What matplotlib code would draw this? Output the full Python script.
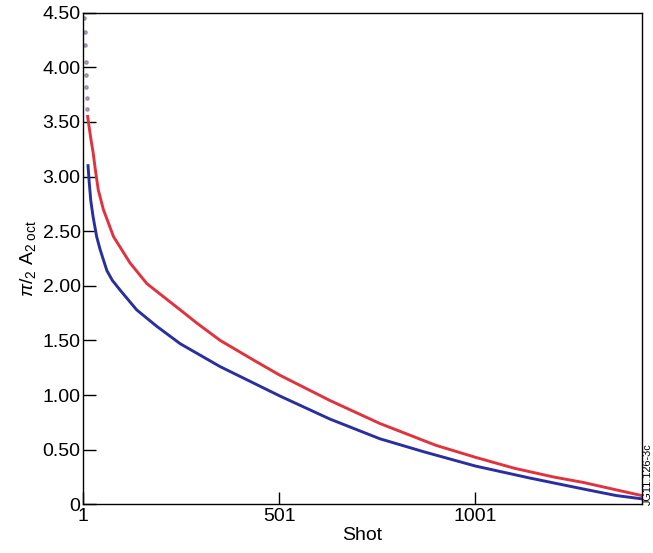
import matplotlib
matplotlib.use("Agg")
import matplotlib.pyplot as plt

plt.rcParams['font.family'] = ['Liberation Sans', 'DejaVu Sans']
plt.rcParams['mathtext.fontset'] = 'custom'
plt.rcParams['mathtext.rm'] = 'Liberation Sans'
plt.rcParams['mathtext.it'] = 'Liberation Sans:italic'
plt.rcParams['mathtext.sf'] = 'Liberation Sans'

# sparse first shots (scattered dots near shot 1)
head_shot = [4, 5, 6, 7, 8, 9, 10, 11]
head_val = [4.45, 4.32, 4.2, 4.05, 3.93, 3.82, 3.72, 3.62]

# red (upper) curve
red_shot = [12, 16, 20, 26, 31, 39, 52, 78, 120, 163, 248, 290, 350, 440,
            503, 630, 757, 900, 1001, 1100, 1200, 1276, 1350, 1425]
red_val = [3.55, 3.45, 3.35, 3.22, 3.08, 2.88, 2.70, 2.45, 2.21, 2.02, 1.78,
           1.66, 1.50, 1.31, 1.18, 0.95, 0.74, 0.54, 0.43, 0.33, 0.25, 0.2,
           0.14, 0.08]

# blue (lower) curve
blue_shot = [13, 16, 20, 26, 35, 44, 61, 75, 95, 137, 188, 248, 350, 503, 630,
             757, 870, 1001, 1140, 1276, 1360, 1425]
blue_val = [3.1, 2.95, 2.78, 2.63, 2.45, 2.33, 2.14, 2.05, 1.96, 1.78, 1.63,
            1.47, 1.26, 0.99, 0.78, 0.60, 0.48, 0.35, 0.24, 0.14, 0.08, 0.05]

yticks = [0, 0.5, 1.0, 1.5, 2.0, 2.5, 3.0, 3.5, 4.0, 4.5]
ylabels = ['0', '0.50', '1.00', '1.50', '2.00', '2.50', '3.00', '3.50', '4.00', '4.50']
xticks = [1, 501, 1001]

fig = plt.figure(figsize=(6.53, 5.53), dpi=100)
ax = fig.add_axes([0.1276, 0.0881, 0.8551, 0.8889])

ax.plot(head_shot, head_val, ls='none', marker='o', ms=2.4, color='#7a6a88', alpha=0.6)
ax.plot(red_shot, red_val, color='#e2323e', lw=2.1)
ax.plot(blue_shot, blue_val, color='#2a2fa0', lw=2.1)

ax.set_xlim(1, 1425)
ax.set_ylim(0, 4.5)
ax.set_yticks(yticks)
ax.set_yticklabels(ylabels)
ax.set_xticks(xticks)
ax.tick_params(direction='in', length=9, width=1, labelsize=14, pad=2)
ax.tick_params(axis='x', pad=3)
for s in ax.spines.values():
    s.set_linewidth(1)

ax.set_xlabel('Shot', fontsize=14, labelpad=1)
ax.set_ylabel(r'$\pi/_{2}\ \mathrm{A}_{2\ \mathrm{oct}}$', fontsize=14, labelpad=3)

fig.text(0.9995, 0.086, 'JG11.126-3c', rotation=90, fontsize=7.8, ha='right', va='bottom')

fig.savefig('out.png', dpi=100)
